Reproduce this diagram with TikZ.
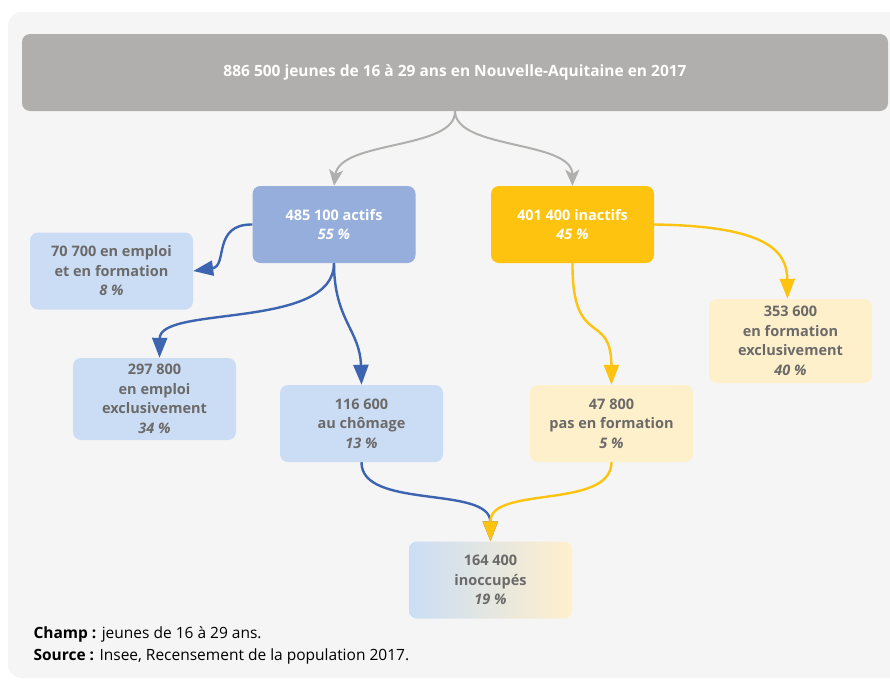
\documentclass[tikz,border=0pt]{standalone}
\usepackage{fontspec}
\setmainfont{Open Sans}
\usepackage{xcolor}
\usetikzlibrary{arrows.meta}
\definecolor{bggray}{HTML}{F5F5F5}
\definecolor{titlegray}{HTML}{B0AFAD}
\definecolor{actblue}{HTML}{95AEDB}
\definecolor{lineblue}{HTML}{3D64B0}
\definecolor{inacyellow}{HTML}{FEC30F}
\definecolor{lightblue}{HTML}{CBDDF5}
\definecolor{lightyellow}{HTML}{FFF0CC}
\definecolor{txtgray}{HTML}{6B6A69}

\begin{document}
\begin{tikzpicture}[x=1pt, y=-1pt,
    box/.style={rounded corners=8pt, minimum width=163pt, minimum height=77pt, align=center,
        font=\fontsize{14.5}{19.5}\selectfont\bfseries, text=txtgray},
    mainbox/.style={box, text=white},
    bluearrow/.style={draw=lineblue, line width=2.4pt, -{Triangle[length=20pt,width=15pt]}},
    yellowarrow/.style={draw=inacyellow, line width=2.4pt, -{Triangle[length=20pt,width=15pt]}},
    grayarrow/.style={draw=titlegray, line width=2pt, -{Stealth[length=16pt,width=14pt,inset=4pt]}}]
    \useasboundingbox (0,0) rectangle (890,680);
    \fill[white] (0,0) rectangle (890,680);
    \fill[bggray, rounded corners=14pt] (8,12) rectangle (910,678);

    \node[mainbox, fill=titlegray, minimum width=866pt, font=\fontsize{15.5}{19}\selectfont\bfseries] (total) at (455,72.5) {886 500 jeunes de 16 à 29 ans en Nouvelle-Aquitaine en 2017};
    \node[mainbox, fill=actblue] (actifs) at (334,224.5) {485 100 actifs\\\textit{55 \%}};
    \node[mainbox, fill=inacyellow] (inactifs) at (572.5,224.5) {401 400 inactifs\\\textit{45 \%}};

    \node[box, fill=lightblue] (emploiform) at (111.5,271) {70 700 en emploi\\et en formation\\\textit{8 \%}};
    \node[box, fill=lightblue, minimum height=82pt] (emploi) at (154.5,399) {297 800\\en emploi\\exclusivement\\\textit{34 \%}};
    \node[box, fill=lightblue] (chomage) at (361.5,423.5) {116 600\\au chômage\\\textit{13 \%}};
    \node[box, fill=lightyellow, minimum height=84pt] (formation) at (790.5,341) {353 600\\en formation\\exclusivement\\\textit{40 \%}};
    \node[box, fill=lightyellow] (pasform) at (611.5,423.5) {47 800\\pas en formation\\\textit{5 \%}};
    \node[box, left color=lightblue, right color=lightyellow] (inocc) at (490.5,580) {164 400\\inoccupés\\\textit{19 \%}};

    \draw[grayarrow] (total.south) .. controls (456,150) and (340,140) .. (actifs.north);
    \draw[grayarrow] (total.south) .. controls (456,150) and (572,140) .. (inactifs.north);

    \draw[bluearrow] (actifs.west) .. controls (212,224) and (228,266) .. (emploiform.east);
    \draw[bluearrow] (actifs.south) .. controls (334,330) and (160,305) .. ([xshift=5pt]emploi.north);
    \draw[bluearrow] (actifs.south) .. controls (334,320) and (360,330) .. (chomage.north);
    \draw[yellowarrow] (inactifs.east) .. controls (765,226) and (787,250) .. ([xshift=-3pt]formation.north);
    \draw[yellowarrow] (inactifs.south) .. controls (572,350) and (611,310) .. (pasform.north);
    \draw[bluearrow] (chomage.south) .. controls (361,510) and (490,485) .. (inocc.north);
    \draw[yellowarrow] (pasform.south) .. controls (611,510) and (490,485) .. (inocc.north);

    \node[anchor=west, align=left, font=\fontsize{15.5}{22}\selectfont, text=black] (notes) at (30,645)
        {\textbf{Champ :} jeunes de 16 à 29 ans.\\\textbf{Source :} Insee, Recensement de la population 2017.};
\end{tikzpicture}
\end{document}
